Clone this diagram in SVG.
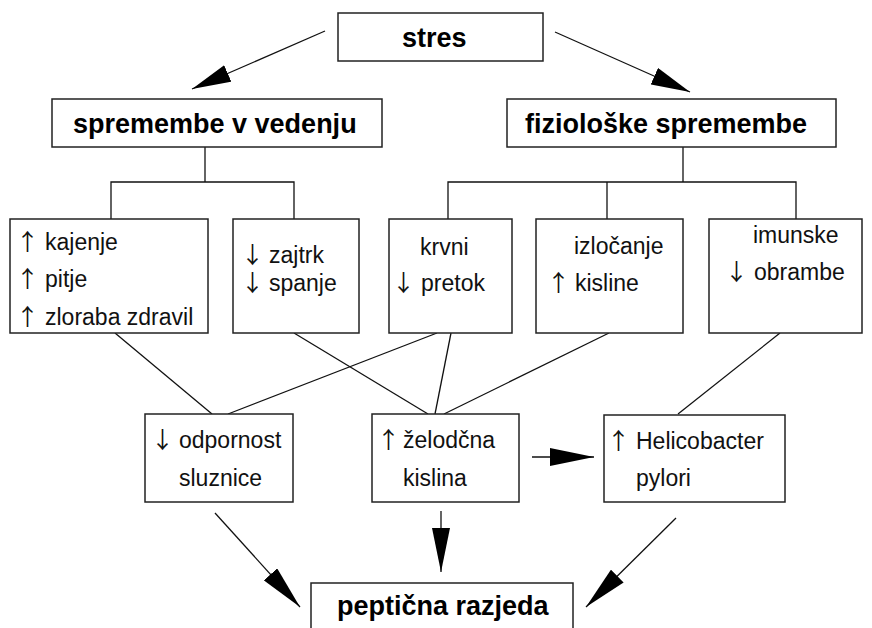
<svg xmlns="http://www.w3.org/2000/svg" width="872" height="628" viewBox="0 0 872 628">
<style>
.box{fill:#fff;stroke:#222;stroke-width:1.5}
.ln{fill:none;stroke:#111;stroke-width:1.3}
.t{font-family:"Liberation Sans",Arial,sans-serif;font-size:23px;fill:#111}
.a{font-family:"Noto Sans CJK JP","DejaVu Sans",sans-serif;font-size:23px;fill:#111}
.b{font-family:"Liberation Sans",Arial,sans-serif;font-size:27px;font-weight:bold;fill:#000}
</style>
<defs>
<marker id="ah" markerUnits="userSpaceOnUse" markerWidth="44" markerHeight="18" viewBox="0 0 44 18" refX="44" refY="9" orient="auto"><path d="M0,0 L44,9 L0,18 z" fill="#000"/></marker>
<marker id="ahs" markerUnits="userSpaceOnUse" markerWidth="39" markerHeight="18" viewBox="0 0 39 18" refX="39" refY="9" orient="auto"><path d="M0,0 L39,9 L0,18 z" fill="#000"/></marker>
</defs>
<rect width="872" height="628" fill="#fff"/>
<g id="connectors">
<line class="ln" x1="325" y1="31" x2="192" y2="89" marker-end="url(#ahs)"/>
<line class="ln" x1="555" y1="32" x2="690" y2="92" marker-end="url(#ahs)"/>
<polyline class="ln" points="205,147 205,182"/>
<polyline class="ln" points="111,219 111,182 294,182 294,219"/>
<polyline class="ln" points="683,147 683,182"/>
<polyline class="ln" points="448,219 448,182 796,182 796,219"/>
<line class="ln" x1="607" y1="182" x2="607" y2="219"/>
<line class="ln" x1="115" y1="333" x2="212" y2="414"/>
<line class="ln" x1="294" y1="333" x2="428" y2="414"/>
<line class="ln" x1="437" y1="333" x2="228" y2="414"/>
<line class="ln" x1="451" y1="333" x2="435" y2="414"/>
<line class="ln" x1="609" y1="333" x2="444" y2="414"/>
<line class="ln" x1="780" y1="333" x2="678" y2="414"/>
<line class="ln" x1="215" y1="513" x2="300" y2="607" marker-end="url(#ah)"/>
<line class="ln" x1="441" y1="511" x2="441" y2="572" marker-end="url(#ah)"/>
<line class="ln" x1="532" y1="457" x2="594" y2="457" marker-end="url(#ah)"/>
<line class="ln" x1="676" y1="518" x2="586" y2="607" marker-end="url(#ah)"/>
</g>
<g id="stres">
<rect class="box" x="338" y="13" width="205" height="48"/>
<text class="b" x="402" y="47">stres</text>
</g>
<g id="vedenje">
<rect class="box" x="52" y="99" width="330" height="48"/>
<text class="b" x="73" y="133">spremembe v vedenju</text>
</g>
<g id="fizioloske">
<rect class="box" x="507" y="99" width="329" height="48"/>
<text class="b" x="525" y="133">fiziološke spremembe</text>
</g>
<g id="kajenje">
<rect class="box" x="10" y="219" width="198" height="114"/>
<text class="a" x="16" y="250">↑</text><text class="t" x="45" y="250">kajenje</text>
<text class="a" x="16" y="287">↑</text><text class="t" x="45" y="287">pitje</text>
<text class="a" x="16" y="325">↑</text><text class="t" x="45" y="325">zloraba zdravil</text>
</g>
<g id="zajtrk">
<rect class="box" x="233" y="219" width="126" height="114"/>
<text class="a" x="241" y="263">↓</text><text class="t" x="269" y="263">zajtrk</text>
<text class="a" x="241" y="291">↓</text><text class="t" x="269" y="291">spanje</text>
</g>
<g id="pretok">
<rect class="box" x="389" y="219" width="123" height="114"/>
<text class="t" x="420" y="255">krvni</text>
<text class="a" x="392" y="291">↓</text><text class="t" x="421" y="291">pretok</text>
</g>
<g id="izlocanje">
<rect class="box" x="536" y="219" width="147" height="114"/>
<text class="t" x="574" y="254">izločanje</text>
<text class="a" x="547" y="291">↑</text><text class="t" x="575" y="291">kisline</text>
</g>
<g id="imunske">
<rect class="box" x="709" y="219" width="153" height="114"/>
<text class="t" x="753" y="243">imunske</text>
<text class="a" x="725" y="280">↓</text><text class="t" x="754" y="280">obrambe</text>
</g>
<g id="odpornost">
<rect class="box" x="145" y="414" width="148" height="88"/>
<text class="a" x="151" y="448">↓</text><text class="t" x="179" y="448">odpornost</text>
<text class="t" x="179" y="486">sluznice</text>
</g>
<g id="kislina">
<rect class="box" x="372" y="414" width="147" height="88"/>
<text class="a" x="377" y="448">↑</text><text class="t" x="403" y="448">želodčna</text>
<text class="t" x="403" y="486">kislina</text>
</g>
<g id="helicobacter">
<rect class="box" x="604" y="415" width="181" height="87"/>
<text class="a" x="607" y="449">↑</text><text class="t" x="636" y="449">Helicobacter</text>
<text class="t" x="636" y="486">pylori</text>
</g>
<g id="razjeda">
<rect class="box" x="311" y="583" width="262" height="60"/>
<text class="b" x="337" y="615">peptična razjeda</text>
</g>
</svg>
